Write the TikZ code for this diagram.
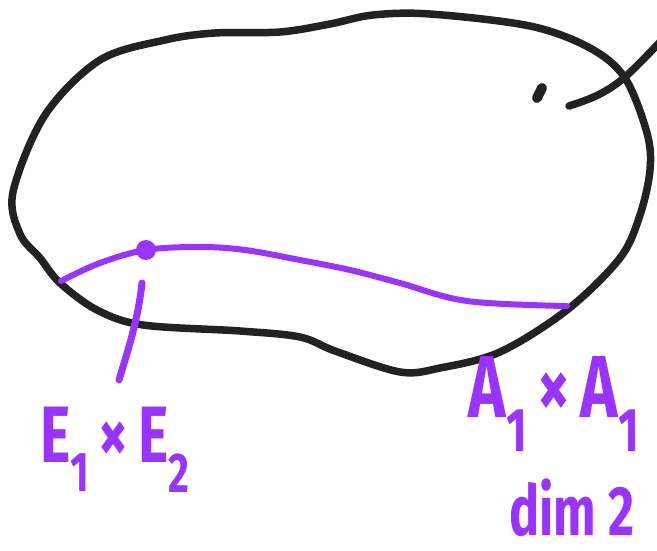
\documentclass[tikz,border=0pt]{standalone}
\usepackage{fontspec}
\setmainfont{Fira Sans}
\usepackage{tikz}
\definecolor{cInk}{HTML}{222222}
\definecolor{cViolet}{HTML}{9933FF}
\newcommand{\squeeze}[1]{\scalebox{0.72}[1]{#1}}
\tikzset{
  ink/.style={draw=cInk,line width=7.5pt,line cap=round,line join=round},
  vline/.style={draw=cViolet,line width=6pt,line cap=round,line join=round},
  lbl/.style={text=cViolet,inner sep=0pt,font=\fontsize{80}{90}\selectfont\bfseries},
}
\begin{document}
\begin{tikzpicture}[x=1pt,y=-1pt]
  \useasboundingbox (0,0) rectangle (657,551);
  \draw[ink] plot[smooth cycle,tension=0.55] coordinates {
    (143,325) (240,331) (300,337) (335,351) (400,372) (440,368) (500,352)
    (567,310) (620,258) (640,215) (650,170) (647,133) (625,78) (590,48)
    (530,26) (430,14) (373,15) (330,24) (280,32) (215,33) (165,40)
    (100,60) (45,115) (13,192) (20,234) (40,258) (60,283) (97,310)};
  \draw[ink] plot[smooth,tension=0.6] coordinates {(569,106) (598,95) (625,77) (660,42)};
  \draw[ink,line width=10pt] (542,88) -- (537,98);
  \draw[vline] plot[smooth,tension=0.6] coordinates {
    (61,281) (100,263) (146,250) (200,247) (245,250) (300,260) (350,270)
    (400,283) (467,301) (567,306)};
  \node[circle,fill=cViolet,minimum size=20pt,inner sep=0pt] (pt) at (146,250) {};
  \draw[vline,line width=7pt] (142,283) .. controls (138,320) and (128,350) .. (119,380);
  \node[lbl] (prod) at (115,450) {\squeeze{E\textsubscript{1}\,×\,E\textsubscript{2}}};
  \node[lbl,font=\fontsize{88}{96}\selectfont\bfseries] (sing) at (554,404) {\squeeze{A\textsubscript{1}\,×\,A\textsubscript{1}}};
  \node[lbl,font=\fontsize{70}{78}\selectfont\bfseries] (dim) at (572,508) {\squeeze{dim 2}};
\end{tikzpicture}
\end{document}
